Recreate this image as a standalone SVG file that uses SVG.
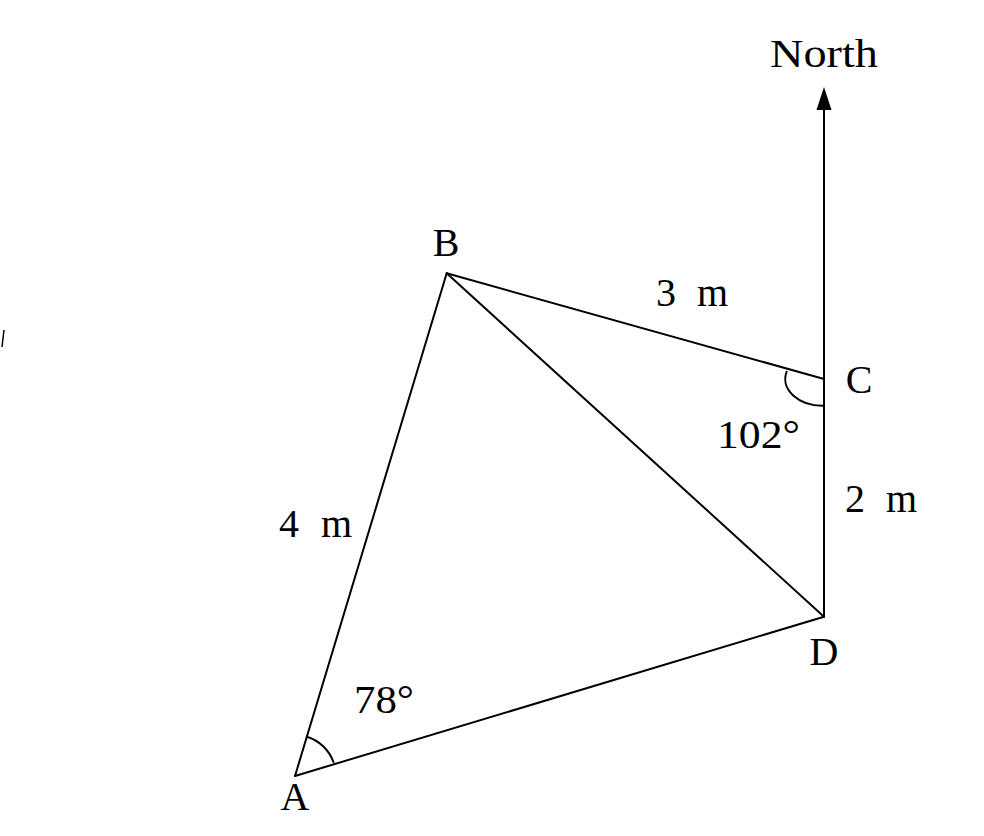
<svg xmlns="http://www.w3.org/2000/svg" width="984" height="836" viewBox="0 0 984 836">
<style>
.ln{stroke:#000;stroke-width:2;fill:none;stroke-linecap:round;stroke-linejoin:round}
.t{font-family:"Liberation Serif","DejaVu Serif",serif;font-size:40px;fill:#000}
</style>
<rect width="984" height="836" fill="#fff"/>
<g id="connectors">
<path class="ln" d="M295,776 L446.7,273.3"/>
<path class="ln" d="M446.7,273.3 L824,379"/>
<path class="ln" d="M446.7,273.3 L824,616.7"/>
<path class="ln" d="M295,776 L824,616.7"/>
<path class="ln" d="M824,616.7 L824,379"/>
<path class="ln" d="M824,379 L824,100"/>
<polygon points="824,87 816.5,110 831.5,110" fill="#000"/>
<path class="ln" d="M306.8,736.7 A41,41 0 0 1 333.5,762"/>
<path class="ln" d="M786.7,371.7 A37.5,26.7 0 0 0 824,405.7"/>
<path d="M4,330 L2,347" stroke="#000" stroke-width="1.5"/>
</g>
<g id="node-north"><text class="t" x="770" y="67" textLength="108" lengthAdjust="spacingAndGlyphs">North</text></g>
<g id="node-B"><text class="t" x="446" y="256" text-anchor="middle">B</text></g>
<g id="node-C"><text class="t" x="859" y="393" text-anchor="middle">C</text></g>
<g id="node-D"><text class="t" x="824" y="665" text-anchor="middle">D</text></g>
<g id="node-A"><text class="t" x="295" y="810" text-anchor="middle">A</text></g>
<g id="label-3m"><text class="t" x="656" y="306" textLength="72" lengthAdjust="spacing">3 m</text></g>
<g id="label-4m"><text class="t" x="279" y="537" textLength="73" lengthAdjust="spacing">4 m</text></g>
<g id="label-2m"><text class="t" x="845" y="512" textLength="72" lengthAdjust="spacing">2 m</text></g>
<g id="label-102"><text class="t" x="717" y="448" textLength="83" lengthAdjust="spacingAndGlyphs">102°</text></g>
<g id="label-78"><text class="t" x="354" y="713" textLength="60" lengthAdjust="spacingAndGlyphs">78°</text></g>
</svg>
